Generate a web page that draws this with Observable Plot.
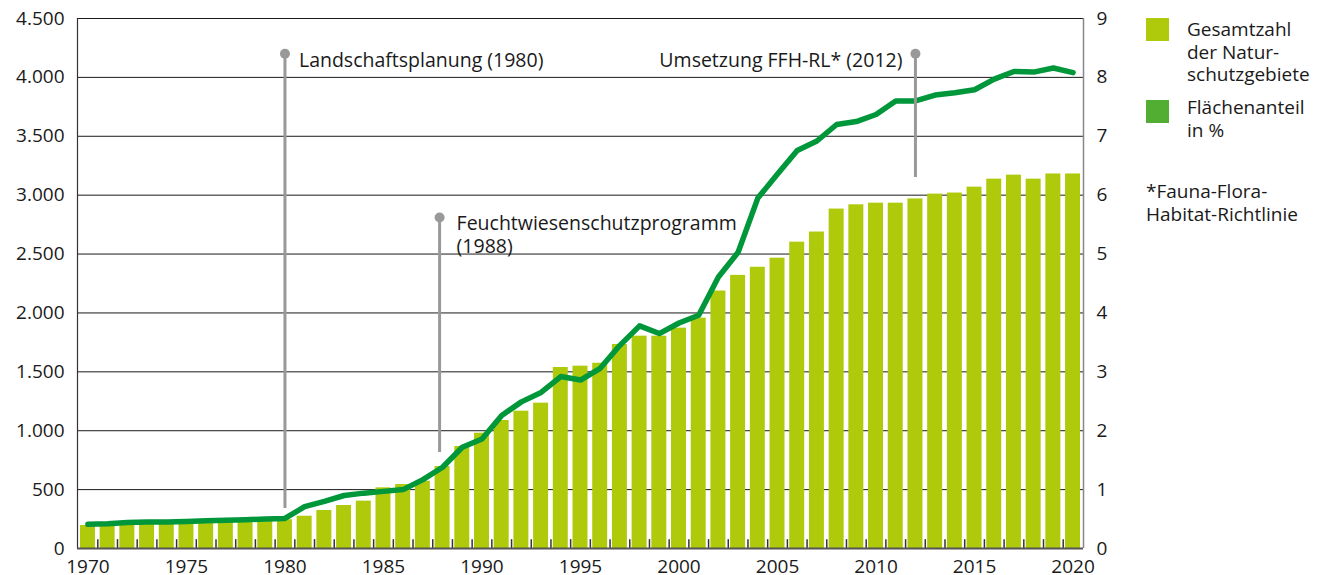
<!DOCTYPE html>
<html><head><meta charset="utf-8">
<script src="https://cdn.jsdelivr.net/npm/d3@7"></script>
<script src="https://cdn.jsdelivr.net/npm/@observablehq/plot@0.6"></script>
<style>
body{margin:0;background:#fff;font-family:"Open Sans",sans-serif;color:#1a1a1a;}
#wrap{position:relative;width:1319px;height:575px;overflow:hidden;}
#wrap svg{position:absolute;left:0;top:0;}
.leg{position:absolute;font-size:19px;line-height:22.5px;white-space:nowrap;}
.sw{position:absolute;width:23px;height:23px;}
</style></head><body><div id="wrap"></div>
<script>
// ---- data ----
const years = [1970,1971,1972,1973,1974,1975,1976,1977,1978,1979,1980,1981,1982,1983,1984,1985,1986,1987,1988,1989,1990,1991,1992,1993,1994,1995,1996,1997,1998,1999,2000,2001,2002,2003,2004,2005,2006,2007,2008,2009,2010,2011,2012,2013,2014,2015,2016,2017,2018,2019,2020];
const counts = [195,198,203,207,211,215,220,225,230,236,244,274,323,365,402,515,543,571,696,866,979,1087,1166,1234,1537,1548,1573,1732,1803,1803,1871,1956,2186,2319,2388,2465,2601,2687,2882,2918,2932,2932,2968,3009,3018,3068,3136,3170,3136,3180,3180];
const shares = [0.41,0.42,0.44,0.45,0.45,0.46,0.47,0.48,0.49,0.50,0.51,0.71,0.80,0.90,0.94,0.97,1.00,1.17,1.38,1.72,1.86,2.26,2.49,2.65,2.92,2.86,3.06,3.45,3.78,3.65,3.83,3.96,4.61,5.03,5.95,6.36,6.76,6.92,7.20,7.25,7.37,7.60,7.60,7.70,7.74,7.79,7.97,8.10,8.09,8.16,8.08];
const leftTicks = [0,500,1000,1500,2000,2500,3000,3500,4000,4500];
const rightTicks = [0,1,2,3,4,5,6,7,8,9];
const xTickYears = [1970,1975,1980,1985,1990,1995,2000,2005,2010,2015,2020];
const annoYears = [1980,1988,2012];
const annoTop = [4200,2810,4200];
const annoBottom = [340,815,3150];
const annoLabels = ["Landschaftsplanung (1980)","Feuchtwiesenschutzprogramm\n(1988)","Umsetzung FFH-RL* (2012)"];
const legendLabels = ["Gesamtzahl\nder Natur-\nschutzgebiete","Flächenanteil\nin %"];
const footnote = "*Fauna-Flora-\nHabitat-Richtlinie";

// ---- layout / style ----
const W=1319,H=575,mL=77,mR=236,mT=18,mB=27;
const padIn=0.24,padOut=0.15;
const step=(W-mL-mR)/(years.length-padIn+2*padOut);
const half=padOut*step+(1-padIn)*step/2;
const barColor="#afca0b", lineColor="#00973b", shareSwatch="#52ae32", annoColor="#999999", ink="#1a1a1a";
const ratio = 4500/9; // right axis unit -> left axis unit

const data = years.map((y,i)=>({year:y,count:counts[i],share:shares[i]}));
const annos = annoYears.map((y,i)=>({year:y,top:annoTop[i],bottom:annoBottom[i],label:annoLabels[i]}));
const deFmt = d => d3.format(",")(d).replace(/,/g,".");

const annoMarks = annos.flatMap((a,i)=>{
  const dx = i===1 ? -3 : 0;
  const right = i<2;
  return [
    Plot.ruleX([a],{x:"year",y1:"bottom",y2:"top",stroke:annoColor,strokeWidth:3,dx}),
    Plot.dot([a],{x:"year",y:"top",r:5,fill:annoColor,dx}),
    Plot.text([a],{x:"year",y:"top",text:"label",textAnchor:right?"start":"end",lineAnchor:"top",
      dx: right?14:-13, dy:-3, lineHeight:1.15, fontSize:19.5, fill:ink})
  ];
});

const plot = Plot.plot({
  width:W,height:H,marginLeft:mL,marginRight:mR,marginTop:mT,marginBottom:mB,
  style:{fontFamily:'"Open Sans", sans-serif',fontSize:"19px",color:ink,background:"transparent"},
  x:{type:"band",domain:years,paddingInner:padIn,paddingOuter:padOut,align:0.5,label:null},
  y:{domain:[0,4500],label:null},
  marks:[
    Plot.ruleY(leftTicks,{stroke:ink,strokeWidth:1}),
    Plot.barY(data,{x:"year",y:"count",fill:barColor}),
    Plot.ruleX(years.slice(0,-1),{x:d=>d,y1:0,y2:75,dx:step/2,stroke:"#333",strokeWidth:1.5}),
    Plot.ruleX([years[0]],{x:d=>d,dx:-half,stroke:"#333",strokeWidth:1.2}),
    Plot.ruleX([years[years.length-1]],{x:d=>d,dx:half,stroke:"#888",strokeWidth:1.5}),
    Plot.ruleY([0],{stroke:"#555",strokeWidth:2}),
    Plot.lineY(data,{x:"year",y:d=>d.share*ratio,stroke:lineColor,strokeWidth:5.5,strokeLinejoin:"round",strokeLinecap:"round"}),
    ...annoMarks,
    Plot.axisY({anchor:"left",ticks:leftTicks,tickFormat:deFmt,tickSize:0,tickPadding:13,label:null}),
    Plot.axisY({anchor:"right",ticks:rightTicks.map(t=>t*ratio),tickFormat:d=>String(Math.round(d/ratio)),tickSize:0,tickPadding:13,label:null}),
    Plot.axisX({ticks:xTickYears,tickFormat:d=>String(d),tickSize:0,tickPadding:11,label:null})
  ]
});
const wrap=document.getElementById("wrap");
wrap.appendChild(plot);

function addBlock(text,left,top){
  const d=document.createElement("div");d.className="leg";d.style.left=left+"px";d.style.top=top+"px";
  d.innerHTML=text.split("\n").join("<br>");wrap.appendChild(d);
}
function addSwatch(color,left,top){
  const s=document.createElement("div");s.className="sw";s.style.left=left+"px";s.style.top=top+"px";s.style.background=color;wrap.appendChild(s);
}
addSwatch(barColor,1146,18);
addBlock(legendLabels[0],1187,18);
addSwatch(shareSwatch,1146,100);
addBlock(legendLabels[1],1187,96);
addBlock(footnote,1146,180);
</script></body></html>
